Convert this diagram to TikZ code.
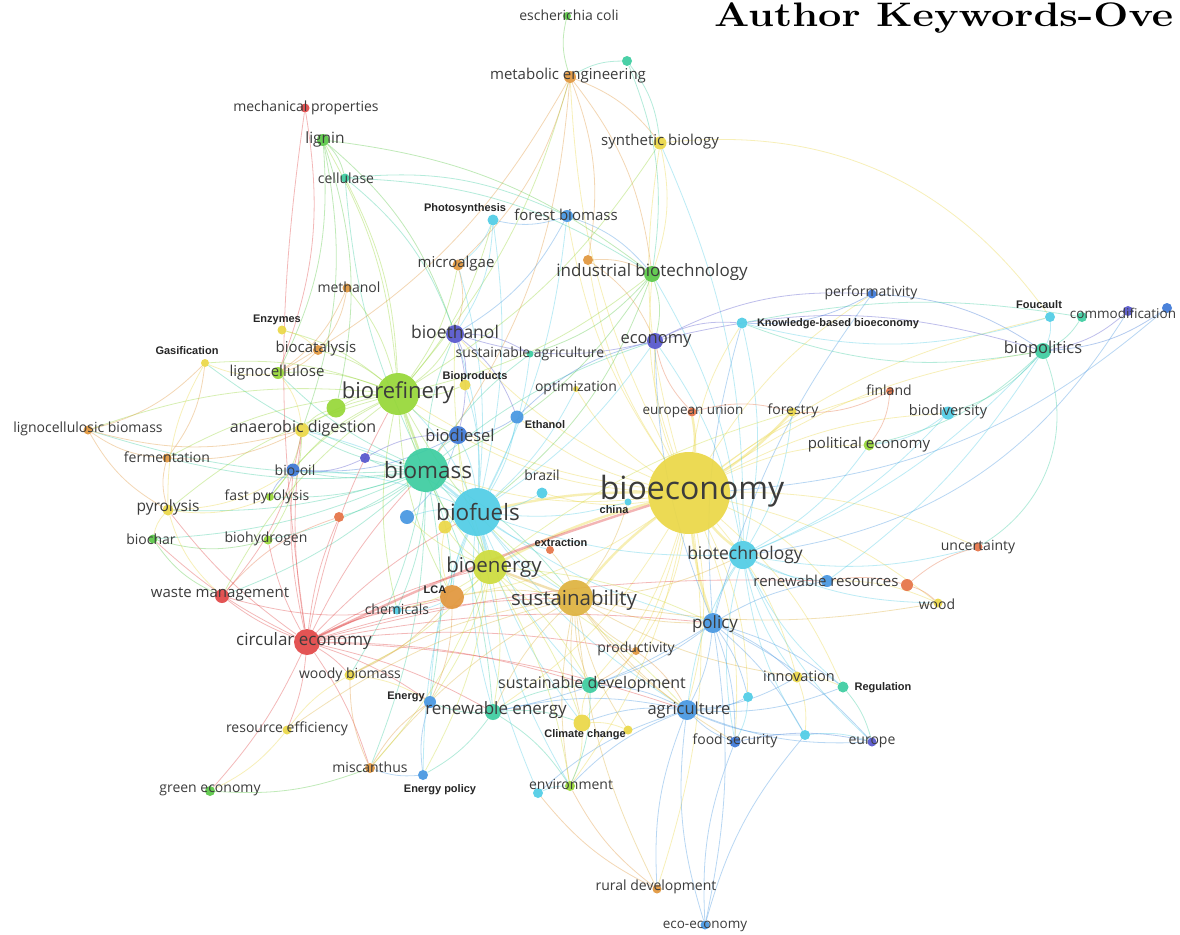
\documentclass[tikz,border=0pt]{standalone}
\usepackage{fontspec}
\setsansfont{Open Sans}
\newfontfamily\boldlabfont{Liberation Sans}
\usepackage{tikz}
\usetikzlibrary{backgrounds}
\definecolor{kwindigo}{RGB}{85, 85, 205}
\definecolor{kwblue}{RGB}{60, 120, 215}
\definecolor{kwsky}{RGB}{70, 150, 225}
\definecolor{kwcyan}{RGB}{80, 205, 230}
\definecolor{kwteal}{RGB}{60, 205, 160}
\definecolor{kwgreen}{RGB}{90, 200, 70}
\definecolor{kwlime}{RGB}{150, 215, 55}
\definecolor{kwchart}{RGB}{205, 220, 60}
\definecolor{kwyellow}{RGB}{235, 215, 70}
\definecolor{kwgold}{RGB}{222, 178, 62}
\definecolor{kworange}{RGB}{225, 150, 60}
\definecolor{kwcoral}{RGB}{230, 115, 70}
\definecolor{kwred}{RGB}{225, 70, 70}
\definecolor{labelgray}{RGB}{60, 60, 60}

\begin{document}
\begin{tikzpicture}[x=1pt, y=-1pt,
    kw/.style={circle, fill=#1, fill opacity=.92, inner sep=0pt},
    lbl/.style={font=\sffamily\fontsize{#1}{#1}\selectfont, text=labelgray, inner sep=0pt},
    blbl/.style={font=\boldlabfont\bfseries\fontsize{11}{11}\selectfont, text=black!85, inner sep=0pt},
    link/.style={draw=#1, line width=.8pt, draw opacity=.38},
    hlink/.style={draw=#1, line width=2.4pt, draw opacity=.4}
  ]
  \useasboundingbox (0,0) rectangle (1180,934);

  % keyword circles
  \foreach \nm/\px/\py/\col/\dia in {
      ecol/567/16/kwgreen/8, tnA/627/61/kwteal/10, meng/570/77/kworange/12,
      mech/305/108/kwred/9, lign/323/140/kwgreen/12, sbio/660/143/kwyellow/13,
      cell/345/178/kwteal/9, phot/493/220/kwcyan/11, fbio/567/216/kwsky/12,
      malg/458/265/kworange/11, tnB/588/260/kworange/10, ibio/652/274/kwgreen/16,
      meth/347/288/kworange/9, perf/872/294/kwblue/9, fouc/1050/317/kwcyan/10,
      tnC/1082/317/kwteal/10, comm/1128/311/kwindigo/10, tnD/1167/308/kwblue/10,
      kbb/742/323/kwcyan/11, enzy/282/330/kwyellow/9, beth/455/334/kwindigo/18,
      econ/655/341/kwindigo/16, bpol/1043/351/kwteal/16, gasi/205/363/kwyellow/8,
      bcat/318/350/kworange/10, sagr/530/354/kwteal/7, bpro/465/385/kwyellow/11,
      lcel/278/373/kwlime/12, bref/398/394/kwlime/42, tnE/336/408/kwlime/19,
      opti/576/389/kwyellow/6, finl/890/391/kwcoral/8, euun/692/412/kwcoral/9,
      fore/792/412/kwyellow/9, bdiv/948/413/kwcyan/13, etha/517/417/kwsky/13,
      lcb/88/430/kworange/9, anae/302/430/kwyellow/14, bdie/458/435/kwblue/18,
      peco/869/445/kwlime/11, ferm/167/458/kworange/9, boil/293/470/kwblue/13,
      tnF/365/458/kwindigo/10, bmas/426/470/kwteal/44, braz/542/493/kwcyan/11,
      beco/689/493/kwyellow/82, chin/628/502/kwcyan/7, pyro/168/510/kwyellow/11,
      fpyr/270/497/kwlime/8, tnG/339/517/kwcoral/10, tnH/407/517/kwsky/14,
      bfue/477/512/kwcyan/48, tnI/445/527/kwyellow/13, bcha/153/539/kwgreen/9,
      bhyd/268/540/kwlime/9, extr/550/550/kwcoral/8, btec/743/555/kwcyan/28,
      unce/978/547/kwcoral/9, bene/490/567/kwchart/34, rres/827/581/kwsky/12,
      tnJ/907/585/kwcoral/12, lca/452/597/kworange/24, wman/222/596/kwred/14,
      sust/575/598/kwgold/36, chem/397/610/kwcyan/9, wood/938/603/kwyellow/9,
      poli/713/623/kwsky/20, circ/307/642/kwred/26, prod/636/651/kworange/8,
      inno/797/677/kwyellow/11, wbio/350/675/kwyellow/11, regu/843/687/kwteal/11,
      sdev/590/685/kwteal/16, tnK/748/697/kwcyan/10, ener/430/702/kwsky/12,
      reen/493/712/kwteal/16, agri/687/710/kwsky/20, clim/582/723/kwyellow/17,
      tnL/628/730/kwyellow/9, reff/287/730/kwyellow/9, fsec/735/742/kwblue/11,
      tnM/805/735/kwcyan/10, euro/872/742/kwindigo/9, misc/370/768/kworange/10,
      epol/423/775/kwsky/10, tnN/538/793/kwcyan/10, envi/570/786/kwlime/10,
      geco/210/791/kwgreen/10, rdev/657/889/kworange/9, ecoe/705/925/kwsky/9}
    \node[kw=\col, minimum size=\dia] (\nm) at (\px,\py) {};

  \begin{scope}[on background layer]
    \fill[white] (0,0) rectangle (1180,934);
    % bioeconomy
    \foreach \dst in {econ,ibio,kbb,bpol,peco,bdiv,finl,inno,rres,wood,unce,sbio,fbio,perf,fouc,bref,bmas,reen,sdev,agri,clim,envi,rdev,lca,braz,opti,beth,bdie,etha,meng,tnB,prod,tnK,fsec,regu}
      \draw[link=kwyellow] (beco) to[bend left=12] (\dst);
    \foreach \dst in {fore,sust,btec,bfue,bene,euun,poli}
      \draw[hlink=kwyellow] (beco) to[bend right=6] (\dst);
    % biofuels
    \foreach \dst in {bref,beth,bdie,etha,braz,sust,lca,reen,ener,sdev,agri,poli,bpro,sagr,fbio,phot,malg,epol,envi,tnH,tnI,boil,anae,econ,btec,chin,extr,opti,tnN,clim}
      \draw[link=kwcyan] (bfue) to[bend right=10] (\dst);
    \foreach \dst in {bmas,bene}
      \draw[hlink=kwcyan] (bfue) to (\dst);
    % biomass
    \foreach \dst in {bene,boil,anae,pyro,ferm,lcel,wman,chem,reen,sust,tnF,bhyd,fpyr,bcha,gasi,lcb,wbio,cell,misc,beth,bdie,econ,sagr,tnG,lca,ener}
      \draw[link=kwteal] (bmas) to[bend left=10] (\dst);
    \draw[hlink=kwlime] (bmas) to (bref);
    % biorefinery
    \foreach \dst in {lign,cell,lcel,bcat,enzy,meth,bpro,tnE,anae,malg,ibio,chem,lca,wman,ferm,gasi,pyro,meng,sust,bene,lcb,sbio,beth,bdie,boil,fpyr,phot}
      \draw[link=kwlime] (bref) to[bend right=12] (\dst);
    % circular economy
    \foreach \dst in {wman,lca,sust,bene,chem,wbio,reff,geco,mech,tnG,pyro,bcha,bhyd,poli,prod,anae,sdev,agri,reen,boil,rres,bmas,bfue,bref,misc,ener}
      \draw[link=kwred] (circ) to[bend left=8] (\dst);
    \draw[hlink=kwred] (circ) to[bend left=4] (beco);
    % sustainability
    \foreach \dst in {lca,agri,poli,sdev,prod,clim,reen,rdev,extr,btec,wood,inno,envi,chin,fsec,misc,wbio,reff,tnL}
      \draw[link=kwgold] (sust) to[bend right=10] (\dst);
    \draw[hlink=kwgold] (sust) to (bene);
    % bioenergy
    \foreach \dst in {lca,reen,bdie,beth,ener,epol,misc,wbio,clim,envi,agri,poli,fore,sdev,chem,tnI,tnH}
      \draw[link=kwchart] (bene) to[bend left=10] (\dst);
    % biotechnology
    \foreach \dst in {ibio,econ,poli,agri,rres,unce,inno,bpol,kbb,sbio,regu,tnM,euro,fsec,wood,peco,bdiv,fore}
      \draw[link=kwcyan] (btec) to[bend right=12] (\dst);
    \draw[link=kwsky] (btec) to[bend right=25] (comm);
    % policy, agriculture
    \foreach \dst in {agri,inno,euro,regu,tnK,tnM,fsec,econ,perf,ecoe,rres,kbb,sdev,reen}
      \draw[link=kwsky] (poli) to[bend left=10] (\dst);
    \foreach \dst in {fsec,rdev,ecoe,envi,clim,tnK,tnM,regu,euro,sdev,inno,reen,tnN}
      \draw[link=kwsky] (agri) to[bend right=12] (\dst);
    % upper part
    \foreach \src/\dst/\col in {meng/ecol/kwgreen, meng/tnA/kwteal, meng/sbio/kworange,
        meng/ibio/kworange, meng/malg/kworange, meng/tnB/kworange, meng/lcel/kworange,
        meng/bmas/kworange, tnA/ibio/kwteal, tnA/sbio/kwteal, sbio/ibio/kwyellow,
        fbio/ibio/kwsky, fbio/phot/kwsky, fbio/beth/kwsky, phot/beth/kwcyan,
        phot/malg/kwcyan, lign/cell/kwgreen, lign/beth/kwgreen, lign/ibio/kwgreen,
        lign/anae/kwgreen, lign/lcel/kwgreen, lign/tnE/kwgreen, cell/beth/kwteal,
        cell/fbio/kwteal, cell/ibio/kwteal, mech/lcel/kwred, tnB/ibio/kworange,
        tnB/econ/kworange, ibio/econ/kwgreen, ibio/sagr/kwgreen, ibio/bmas/kwgreen,
        ibio/bfue/kwgreen, econ/perf/kwindigo, econ/kbb/kwindigo, econ/beth/kwindigo,
        econ/bpol/kwindigo, perf/kbb/kwblue, perf/bpol/kwblue, fouc/bpol/kwcyan,
        tnC/bpol/kwteal, comm/bpol/kwindigo, tnD/bpol/kwblue, bpol/bdiv/kwteal,
        bpol/kbb/kwteal, bpol/peco/kwteal, fouc/kbb/kwcyan, finl/fore/kwcoral,
        finl/peco/kwcoral, bdiv/peco/kwcyan, euun/econ/kwcoral, euun/fore/kwcoral,
        malg/beth/kworange, meth/lcel/kworange, meth/bcat/kworange, enzy/bcat/kwyellow,
        bcat/lcel/kworange, beth/bdie/kwindigo, beth/etha/kwindigo, beth/sagr/kwindigo,
        beth/bpro/kwindigo, etha/bdie/kwblue, etha/econ/kwblue, tnF/boil/kwindigo,
        tnF/bdie/kwindigo}
      \draw[link=\col] (\src) to[bend left=15] (\dst);
    \draw[link=kwyellow] (sbio) to[bend left=30] (fouc);
    \draw[link=kwteal] (bpol) to[bend left=40] (unce);
    \draw[link=kwsky] (beco) to[bend right=18] (tnD);
    \draw[link=kwteal] (kbb) to[bend left=10] (tnC);
    \draw[link=kwcyan] (rres) to[bend right=10] (bpol);
    % left part
    \foreach \src/\dst/\col in {lcb/ferm/kworange, lcb/gasi/kworange, lcb/pyro/kworange,
        lcb/anae/kworange, ferm/pyro/kworange, ferm/gasi/kworange, ferm/anae/kworange,
        gasi/pyro/kwyellow, gasi/lcel/kwyellow, pyro/bcha/kwyellow, pyro/boil/kwyellow,
        pyro/fpyr/kwyellow, pyro/wman/kwyellow, boil/fpyr/kwblue, boil/bdie/kwblue,
        bcha/wman/kwgreen, bcha/bhyd/kwgreen, bhyd/anae/kwlime, fpyr/anae/kwlime,
        tnG/wman/kwcoral, wman/anae/kwred, wman/lca/kwred, tnH/bdie/kwsky,
        tnI/lca/kwyellow, chem/lca/kwcyan, anae/lcel/kwyellow, tnE/anae/kwlime}
      \draw[link=\col] (\src) to[bend right=15] (\dst);
    % lower part
    \foreach \src/\dst/\col in {reen/ener/kwteal, reen/epol/kwteal, reen/envi/kwteal,
        reen/clim/kwteal, reen/sdev/kwteal, clim/envi/kwyellow, clim/tnL/kwyellow,
        clim/sdev/kwyellow, tnN/envi/kwcyan, epol/misc/kwsky, epol/ener/kwsky,
        misc/geco/kwgreen, misc/wbio/kworange, misc/ener/kworange, reff/geco/kwyellow,
        reff/wbio/kwyellow, rdev/envi/kworange, rdev/tnN/kworange, ecoe/fsec/kwsky,
        ecoe/tnM/kwsky, prod/sdev/kworange, prod/agri/kworange, inno/regu/kwyellow,
        inno/tnM/kwyellow, regu/euro/kwteal, tnM/euro/kwcyan, tnK/fsec/kwcyan,
        fsec/euro/kwblue, wbio/ener/kwyellow, lca/ener/kworange, lca/wbio/kworange,
        sdev/envi/kwteal, rres/tnJ/kwcoral, tnJ/wood/kwcoral, tnJ/unce/kwcoral,
        rres/wood/kwyellow}
      \draw[link=\col] (\src) to[bend left=12] (\dst);
  \end{scope}

  % keyword labels
  \foreach \nm/\px/\py/\fs/\txt in {
      ecol/569/15/14/escherichia coli, meng/568/76/15/metabolic engineering,
      mech/306/108/14/mechanical properties, lign/325/139/15.5/lignin,
      sbio/660/142/15/synthetic biology, cell/346/178/14/cellulase,
      fbio/566/215/15/forest biomass, malg/456/264/15/microalgae,
      ibio/652/272/17/industrial biotechnology, meth/349/287/14/methanol,
      perf/871/293/14/performativity, comm/1123/313/13.5/commodification,
      beth/455/332/17.5/bioethanol, econ/656/341/16.5/economy,
      bpol/1043/349/16.5/biopolitics, bcat/316/349/15/biocatalysis,
      sagr/530/354/14/sustainable agriculture, lcel/277/373/15/lignocellulose,
      bref/398/393/22/biorefinery, opti/576/388/14/optimization,
      finl/889/390/14/finland, euun/693/411/13.5/european union,
      fore/793/411/14/forestry, bdiv/948/412/14.5/biodiversity,
      lcb/88/429/14/lignocellulosic biomass, anae/303/428/16/anaerobic digestion,
      bdie/460/435/16.5/biodiesel, peco/869/445/15/political economy,
      ferm/167/457/14/fermentation, boil/295/470/14/bio-oil,
      bmas/428/470/22.5/biomass, braz/542/475/14/brazil,
      beco/692/491/32/bioeconomy, pyro/168/507/15.5/pyrolysis,
      bfue/478/512/22.5/biofuels,
      fpyr/267/497/14/fast pyrolysis, bcha/151/539/14/biochar,
      bhyd/266/539/14/biohydrogen, btec/745/555/17.5/biotechnology,
      unce/978/547/14/uncertainty, bene/494/567/20.5/bioenergy,
      rres/826/581/15/renewable resources, wman/220/594/15/waste management,
      sust/574/600/20.5/sustainability, chem/397/609/14/chemicals,
      wood/937/604/14/wood, poli/715/624/17/policy,
      circ/304/641/17/circular economy, prod/636/649/14/productivity,
      inno/799/676/14.5/innovation, wbio/350/675/14/woody biomass,
      sdev/592/684/16/sustainable development, reen/496/710/17/renewable energy,
      agri/689/710/16.5/agriculture, reff/287/729/14/resource efficiency,
      fsec/735/741/14/food security, euro/872/742/14/europe,
      misc/370/767/14/miscanthus, envi/571/784/14/environment,
      geco/210/790/14/green economy, rdev/656/887/14/rural development,
      ecoe/705/926/13.5/eco-economy}
    \node[lbl=\fs] (\nm-t) at (\px,\py) {\txt};

  % bold labels
  \foreach \nm/\px/\py/\txt in {
      phot/465/209/Photosynthesis, enzy/277/320/Enzymes, gasi/187/351/Gasification,
      bpro/475/377/Bioproducts, etha/545/425/Ethanol, chin/614/510/china,
      extr/561/543/extraction, lca/435/590/LCA, ener/406/697/Energy,
      clim/585/735/Climate change, epol/440/790/Energy policy,
      regu/883/688/Regulation, fouc/1039/305/Foucault,
      kbb/838/324/Knowledge-based bioeconomy}
    \node[blbl] (\nm-t) at (\px,\py) {\txt};

  \node[font=\rmfamily\bfseries\fontsize{34}{34}\selectfont, anchor=base west, inner sep=0pt] (title) at (714,27) {\scalebox{1.22}[1]{Author Keywords-Ove}};
\end{tikzpicture}
\end{document}
